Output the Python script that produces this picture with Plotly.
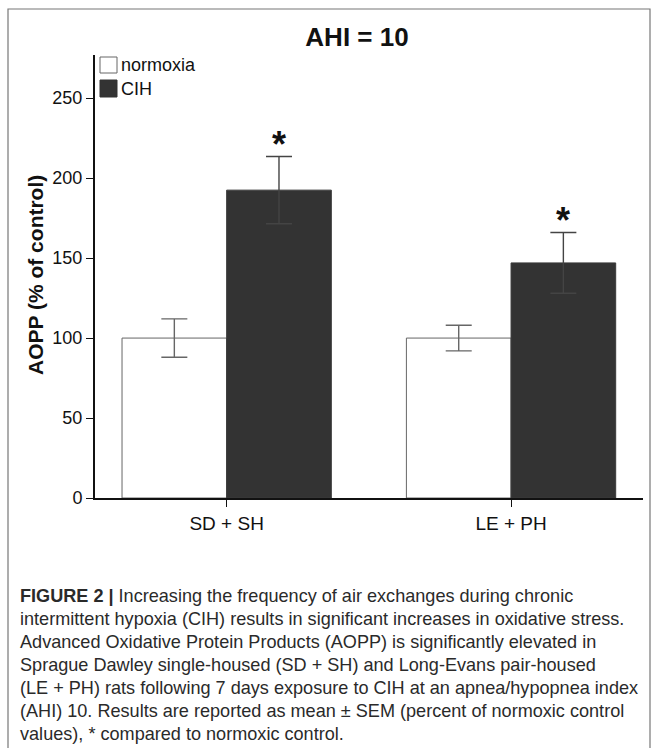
import plotly.graph_objects as go

# ---------------- data ----------------
categories = ["SD + SH", "LE + PH"]
normoxia_mean = [100, 100]
normoxia_sem = [12, 8]
cih_mean = [192.5, 147]
cih_sem = [21, 19]
y_ticks = [0, 50, 100, 150, 200, 250]
title_text = "AHI = 10"
y_title = "AOPP (% of control)"
legend_labels = ["normoxia", "CIH"]
caption_lines = [
    "<b>FIGURE 2 |</b> Increasing the frequency of air exchanges during chronic",
    "intermittent hypoxia (CIH) results in significant increases in oxidative stress.",
    "Advanced Oxidative Protein Products (AOPP) is significantly elevated in",
    "Sprague Dawley single-housed (SD + SH) and Long-Evans pair-housed",
    "(LE + PH) rats following 7 days exposure to CIH at an apnea/hypopnea index",
    "(AHI) 10. Results are reported as mean \u00b1 SEM (percent of normoxic control",
    "values), * compared to normoxic control.",
]

# ---------------- layout geometry ----------------
W, H = 657, 748
L, R, T, B = 95, 14, 55, 250
PW, PH = W - L - R, H - T - B
BAR_W = 0.368
FONT = "Liberation Sans, Arial, sans-serif"

def px(x):
    return (x - L) / PW

def py(y):
    return (H - B - y) / PH

xs = list(range(len(categories)))

fig = go.Figure()
fig.add_trace(go.Bar(
    x=xs, y=normoxia_mean, width=BAR_W, offset=-BAR_W,
    name=legend_labels[0],
    marker=dict(color="white", line=dict(color="#666666", width=1)),
    error_y=dict(type="data", array=normoxia_sem, color="#666666",
                 thickness=1.4, width=13),
    showlegend=False, hoverinfo="skip",
))
fig.add_trace(go.Bar(
    x=xs, y=cih_mean, width=BAR_W, offset=0,
    name=legend_labels[1],
    marker=dict(color="#333333", line=dict(color="#3a3a3a", width=1)),
    error_y=dict(type="data", array=cih_sem, color="#444444",
                 thickness=1.4, width=13),
    showlegend=False, hoverinfo="skip",
))

annotations = []
# significance asterisks above CIH error bars
for i, (m, s) in enumerate(zip(cih_mean, cih_sem)):
    annotations.append(dict(
        x=i + BAR_W / 2, y=m + s, xref="x", yref="y",
        text="<b>*</b>", showarrow=False, yanchor="bottom",
        yshift=-10, font=dict(family=FONT, size=36, color="#111111"),
    ))

# y-axis title
annotations.append(dict(
    x=px(35), y=py(275), xref="paper", yref="paper",
    text="<b>" + y_title + "</b>", textangle=-90, showarrow=False,
    xanchor="center", yanchor="middle",
    font=dict(family=FONT, size=21, color="#111111"),
))

# custom legend
shapes = []
legend_boxes = [(57, 73, "white", "#666666"), (80, 97, "#333333", "#333333")]
for (top, bottom, fill, line), label in zip(legend_boxes, legend_labels):
    shapes.append(dict(type="rect", xref="paper", yref="paper",
                       x0=px(100), x1=px(117), y0=py(bottom), y1=py(top),
                       fillcolor=fill, line=dict(color=line, width=1)))
    annotations.append(dict(
        x=px(119), y=py((top + bottom) / 2), xref="paper", yref="paper",
        text=label, showarrow=False, xanchor="left", yanchor="middle",
        font=dict(family=FONT, size=18, color="#111111"),
    ))

# outer frame
shapes.append(dict(type="rect", xref="paper", yref="paper",
                   x0=px(8), x1=px(650), y0=py(760), y1=py(9),
                   line=dict(color="#777777", width=1.2),
                   fillcolor="rgba(0,0,0,0)", layer="below"))

# caption
for k, line in enumerate(caption_lines):
    annotations.append(dict(
        x=px(18), y=py(596 + 23.0 * k), xref="paper", yref="paper",
        text=line, showarrow=False, xanchor="left", yanchor="middle",
        font=dict(family=FONT, size=18.1, color="#2a2a2a"),
    ))

fig.update_layout(
    width=W, height=H,
    margin=dict(l=L, r=R, t=T, b=B, pad=0),
    paper_bgcolor="white", plot_bgcolor="white",
    title=dict(text="<b>" + title_text + "</b>", x=px(357), xref="paper",
               xanchor="center", y=1 - 37 / H, yref="container",
               yanchor="middle", font=dict(family=FONT, size=26, color="#111111")),
    xaxis=dict(range=[-0.463, 1.464], tickvals=xs, ticktext=categories,
               ticks="outside", ticklen=7, tickwidth=1, tickcolor="#111111",
               showline=True, linewidth=2, linecolor="#111111",
               showgrid=False, zeroline=False,
               tickfont=dict(family=FONT, size=19, color="#111111")),
    yaxis=dict(range=[0, 277], tickvals=y_ticks,
               ticks="outside", ticklen=7, tickwidth=1, tickcolor="#111111",
               showline=True, linewidth=2, linecolor="#111111",
               showgrid=False, zeroline=False,
               tickfont=dict(family=FONT, size=18, color="#111111")),
    shapes=shapes, annotations=annotations,
    showlegend=False, bargap=0, hovermode=False,
)

fig.write_html("out.html",
               config={"displayModeBar": False, "staticPlot": True},
               post_script="document.body.style.margin='0';"
                           "document.body.style.padding='0';")
